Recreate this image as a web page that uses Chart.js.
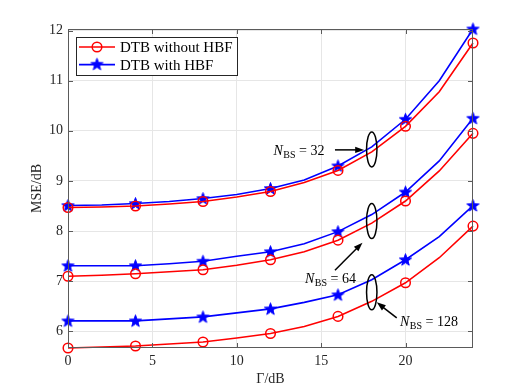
<!DOCTYPE html>
<html>
<head>
<meta charset="utf-8">
<script src="https://cdn.jsdelivr.net/npm/chart.js@4.4.0/dist/chart.umd.min.js"></script>
<style>
  html,body{margin:0;padding:0;background:#fff;}
</style>
</head>
<body>
<canvas id="myChart" width="523" height="392"></canvas>
<script>
// data (x = Γ in dB, step 2)
const gamma_db = [0,2,4,6,8,10,12,14,16,18,20,22,24]
const mse_32_without  = [8.47,8.48,8.50,8.54,8.59,8.68,8.79,8.97,9.21,9.58,10.09,10.78,11.75]
const mse_32_with     = [8.51,8.52,8.55,8.59,8.65,8.73,8.85,9.02,9.30,9.68,10.23,11.00,12.03]
const mse_64_without  = [7.10,7.12,7.15,7.19,7.23,7.32,7.43,7.59,7.82,8.16,8.60,9.20,9.95]
const mse_64_with     = [7.31,7.31,7.31,7.35,7.40,7.50,7.59,7.75,7.99,8.33,8.78,9.40,10.25]
const mse_128_without = [5.67,5.69,5.71,5.75,5.79,5.87,5.96,6.10,6.30,6.60,6.97,7.47,8.10]
const mse_128_with    = [6.21,6.21,6.21,6.25,6.29,6.37,6.45,6.58,6.73,7.03,7.43,7.89,8.51]
const x_ticks = [0,5,10,15,20]
const y_ticks = [6,7,8,9,10,11,12]
const legend_labels = ['DTB without HBF','DTB with HBF']

const SERIF = "'Liberation Serif', 'DejaVu Serif', serif"
const RED = '#ff0000'
const BLUE = '#0000ff'
const AXIS = '#5a5a5a'

// filled 5 point star for the "with HBF" markers
const make_star = (color) => {
  const c = document.createElement('canvas')
  c.width = 15; c.height = 15
  const g = c.getContext('2d')
  const R = 6.4, r = 2.6
  g.beginPath()
  for(let i=0;i<10;i++){
    const a = -Math.PI/2 + i*Math.PI/5
    const rr = i%2===0 ? R : r
    const px = 7.5 + rr*Math.cos(a), py = 7.9 + rr*Math.sin(a)
    if(i===0) g.moveTo(px,py); else g.lineTo(px,py)
  }
  g.closePath()
  g.fillStyle = color
  g.fill()
  g.lineWidth = 1
  g.strokeStyle = color
  g.stroke()
  return c
}
const star_img = make_star(BLUE)

const to_xy = (arr) => arr.map((v,i)=>({x:gamma_db[i], y:v}))
const marker_radius = (r) => (ctx) => {
  const x = gamma_db[ctx.dataIndex]
  return x % 4 === 0 ? r : 0
}

const make_ds = (arr, with_hbf) => ({
  data: to_xy(arr),
  borderColor: with_hbf ? BLUE : RED,
  backgroundColor: with_hbf ? BLUE : 'rgba(0,0,0,0)',
  borderWidth: 1.6,
  pointStyle: with_hbf ? star_img : 'circle',
  pointRadius: marker_radius(with_hbf ? 6 : 4.8),
  pointBorderWidth: 1.5,
  pointBorderColor: with_hbf ? BLUE : RED,
  pointBackgroundColor: 'rgba(0,0,0,0)',
  tension: 0,
  clip: false,
})

// ellipse + arrow + label for each antenna count (data coords)
const notes = [
  {n:'32',  ex:18, ey:9.63, fx:15.82, fy:9.62, tx:17.55, ty:9.62, lx:15.17, ly:9.62, align:'right'},
  {n:'64',  ex:18, ey:8.20, fx:15.82, fy:7.22, tx:17.45, ty:7.77, lx:14.04, ly:7.07, align:'left'},
  {n:'128', ex:18, ey:6.78, fx:19.48, fy:6.27, tx:18.3,  ty:6.58, lx:19.67, ly:6.20, align:'left'},
]

const draw_nbs = (ctx, x, y, n, align) => {
  const big = `14px ${SERIF}`
  const big_i = `italic 14px ${SERIF}`
  const small = `10px ${SERIF}`
  const rest = ' = ' + n
  ctx.font = big_i; const w1 = ctx.measureText('N').width
  ctx.font = small; const w2 = ctx.measureText('BS').width
  ctx.font = big; const w3 = ctx.measureText(rest).width
  let sx = align === 'right' ? x - (w1+w2+w3) : x
  ctx.fillStyle = '#000'
  ctx.textBaseline = 'alphabetic'
  ctx.textAlign = 'left'
  const base = y + 5
  ctx.font = big_i; ctx.fillText('N', sx, base)
  ctx.font = small; ctx.fillText('BS', sx + w1 + 0.5, base + 3)
  ctx.font = big; ctx.fillText(rest, sx + w1 + w2 + 0.5, base)
}

const draw_arrow = (ctx, x1, y1, x2, y2) => {
  const ang = Math.atan2(y2-y1, x2-x1)
  const L = 9, W = 3.2
  ctx.strokeStyle = '#000'
  ctx.lineWidth = 1.5
  ctx.beginPath()
  ctx.moveTo(x1,y1)
  ctx.lineTo(x2 - L*Math.cos(ang)*0.8, y2 - L*Math.sin(ang)*0.8)
  ctx.stroke()
  ctx.fillStyle = '#000'
  ctx.beginPath()
  ctx.moveTo(x2,y2)
  ctx.lineTo(x2 - L*Math.cos(ang) + W*Math.sin(ang), y2 - L*Math.sin(ang) - W*Math.cos(ang))
  ctx.lineTo(x2 - L*Math.cos(ang) - W*Math.sin(ang), y2 - L*Math.sin(ang) + W*Math.cos(ang))
  ctx.closePath()
  ctx.fill()
}

const deco_plugin = {
  id: 'deco',
  afterDraw(chart){
    const {ctx, chartArea:a, scales:{x, y}} = chart
    ctx.save()
    // box + inward ticks
    ctx.strokeStyle = AXIS
    ctx.lineWidth = 1
    ctx.strokeRect(a.left+0.5, a.top+0.5, a.right-a.left-1, a.bottom-a.top-1)
    ctx.beginPath()
    x_ticks.forEach(v=>{
      const px = Math.round(x.getPixelForValue(v))+0.5
      ctx.moveTo(px, a.bottom); ctx.lineTo(px, a.bottom-5)
      ctx.moveTo(px, a.top); ctx.lineTo(px, a.top+5)
    })
    y_ticks.forEach(v=>{
      const py = Math.round(y.getPixelForValue(v))+0.5
      ctx.moveTo(a.left, py); ctx.lineTo(a.left+5, py)
      ctx.moveTo(a.right, py); ctx.lineTo(a.right-5, py)
    })
    ctx.stroke()

    // annotations
    notes.forEach(nt=>{
      ctx.strokeStyle = '#000'
      ctx.lineWidth = 1.5
      ctx.beginPath()
      ctx.ellipse(x.getPixelForValue(nt.ex), y.getPixelForValue(nt.ey), 5.2, 17.5, 0, 0, Math.PI*2)
      ctx.stroke()
      draw_arrow(ctx, x.getPixelForValue(nt.fx), y.getPixelForValue(nt.fy),
                      x.getPixelForValue(nt.tx), y.getPixelForValue(nt.ty))
      draw_nbs(ctx, x.getPixelForValue(nt.lx), y.getPixelForValue(nt.ly), nt.n, nt.align)
    })

    // legend (line through marker, matlab style)
    const bx = a.left + 8, by = a.top + 8, bw = 161, bh = 38
    ctx.fillStyle = '#fff'
    ctx.fillRect(bx, by, bw, bh)
    ctx.strokeStyle = '#262626'
    ctx.lineWidth = 1
    ctx.strokeRect(bx+0.5, by+0.5, bw, bh)
    legend_labels.forEach((lab,i)=>{
      const ly = by + 10 + i*17.6
      const col = i===0 ? RED : BLUE
      ctx.strokeStyle = col
      ctx.lineWidth = 1.6
      ctx.beginPath(); ctx.moveTo(bx+3, ly); ctx.lineTo(bx+39, ly); ctx.stroke()
      if(i===0){
        ctx.lineWidth = 1.5
        ctx.beginPath(); ctx.arc(bx+21, ly, 4.8, 0, Math.PI*2); ctx.stroke()
      }else{
        ctx.drawImage(star_img, bx+21-7.5, ly-7.9)
      }
      ctx.fillStyle = '#000'
      ctx.font = `15px ${SERIF}`
      ctx.textAlign = 'left'
      ctx.textBaseline = 'middle'
      ctx.fillText(lab, bx+44, ly+1)
    })
    ctx.restore()
  }
}

const chart = new Chart(document.getElementById('myChart'), {
  type: 'line',
  data: {
    datasets: [
      make_ds(mse_32_without,false), make_ds(mse_32_with,true),
      make_ds(mse_64_without,false), make_ds(mse_64_with,true),
      make_ds(mse_128_without,false), make_ds(mse_128_with,true),
    ]
  },
  options: {
    responsive: false,
    animation: false,
    layout: {padding: {left:0, top:29, right:50, bottom:0}},
    plugins: {legend:{display:false}, tooltip:{enabled:false}},
    scales: {
      x: {
        type: 'linear', min: 0, max: 24,
        afterBuildTicks: s => { s.ticks = x_ticks.map(v=>({value:v})) },
        afterFit: s => { s.height = 44 },
        grid: {color:'#e6e6e6', drawTicks:false},
        border: {display:false},
        ticks: {font:{family:SERIF, size:14}, color:'#262626', padding:5, maxRotation:0},
        title: {display:true, text:'Γ/dB', font:{family:SERIF, size:14}, color:'#262626', padding:{top:0,bottom:4}},
      },
      y: {
        type: 'linear', min: 5.67, max: 12.03,
        afterBuildTicks: s => { s.ticks = y_ticks.map(v=>({value:v})) },
        afterFit: s => { s.width = 68 },
        grid: {color:'#e6e6e6', drawTicks:false},
        border: {display:false},
        ticks: {font:{family:SERIF, size:14}, color:'#262626', padding:5},
        title: {display:true, text:'MSE/dB', font:{family:SERIF, size:14}, color:'#262626', padding:{top:29,bottom:0}},
      }
    }
  },
  plugins: [deco_plugin]
})
</script>
</body>
</html>
